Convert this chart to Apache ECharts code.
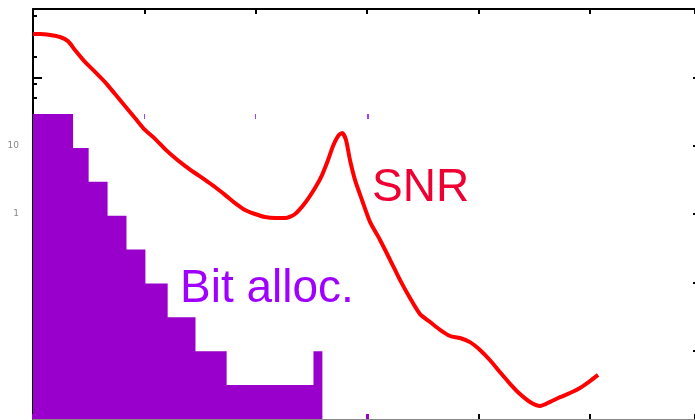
<!DOCTYPE html>
<html>
<head>
<meta charset="utf-8">
<script src="https://cdn.jsdelivr.net/npm/echarts@6/dist/echarts.min.js"></script>
<style>html,body{margin:0;padding:0;background:#fff}#c{width:695px;height:420px}</style>
</head>
<body>
<div id="c"></div>
<script>
// Bit allocation bands (band edges in x units, bits per band)
const bandEdges = [0, 0.36, 0.50, 0.67, 0.84, 1.01, 1.21, 1.46, 1.74, 2.52, 2.60];
const bandBits = [9, 8, 7, 6, 5, 4, 3, 2, 1, 2];

// SNR curve (x units, dB)
const snrX = [0, 0.063, 0.153, 0.243, 0.314, 0.377, 0.467, 0.557, 0.647, 0.737, 0.826, 0.916, 1.006, 1.096, 1.186, 1.276, 1.365, 1.455, 1.545, 1.635, 1.725, 1.815, 1.904, 1.994, 2.084, 2.174, 2.264, 2.354, 2.443, 2.533, 2.596, 2.650, 2.695, 2.740, 2.776, 2.811, 2.847, 2.892, 2.955, 3.027, 3.117, 3.207, 3.296, 3.386, 3.476, 3.566, 3.656, 3.746, 3.835, 3.925, 4.015, 4.105, 4.195, 4.285, 4.374, 4.464, 4.554, 4.644, 4.734, 4.823, 4.913, 5.003, 5.075];
const snrDb = [52.7, 52.7, 52.4, 51.8, 50.6, 48.0, 44.5, 41.6, 38.6, 35.1, 31.6, 28.1, 24.6, 22.0, 19.0, 16.4, 14.1, 12.0, 10.0, 7.9, 5.6, 3.2, 1.2, 0, -0.9, -1.2, -1.2, 0, 3.2, 7.6, 11.4, 15.8, 19.9, 22.8, 23.7, 21.7, 15.8, 10.0, 4.1, -2.3, -7.6, -13.4, -19.3, -24.6, -29.3, -31.6, -33.9, -35.7, -36.3, -37.5, -39.8, -42.8, -46.3, -49.7, -52.7, -55.0, -56.2, -55.0, -53.6, -52.4, -50.9, -48.9, -47.1];

// Tick values
const xTicksInterval = 1;
const leftMajorTicks = [100, 1000];
const leftMinorTicks = [50, 80, 200, 800];
const leftLabels = [1, 10];
const rightTicks = [0.01, 0.1, 1, 10, 100];

const barData = bandEdges.map((e, i) => [e, bandBits[Math.min(i, bandBits.length - 1)]]);
const snrData = snrX.map((x, i) => [x, Math.pow(10, snrDb[i] / 20)]);

const chart = echarts.init(document.getElementById('c'), null, {renderer: 'canvas'});
const noSplit = {show: false};
const option = {
  animation: false,
  backgroundColor: '#fff',
  grid: [
    {left: 33, top: 9, right: 0, height: 410},
    {left: 33, top: 114, width: 335, height: 305}
  ],
  xAxis: [
    {gridIndex: 0, type: 'value', min: 0, max: 5.946, interval: xTicksInterval, position: 'bottom',
     axisLine: {onZero: false, lineStyle: {color: '#888', width: 1}},
     axisTick: {inside: true, length: 5, lineStyle: {color: '#000', width: 2}},
     axisLabel: {show: false}, splitLine: noSplit},
    {gridIndex: 0, type: 'value', min: 0, max: 5.946, interval: xTicksInterval, position: 'top',
     axisLine: {onZero: false, lineStyle: {color: '#000', width: 2}},
     axisTick: {inside: true, length: 5, lineStyle: {color: '#000', width: 2}},
     axisLabel: {show: false}, splitLine: noSplit},
    {gridIndex: 1, type: 'value', min: 0, max: 3.01, interval: xTicksInterval, position: 'top',
     axisLine: {show: false, onZero: false},
     axisTick: {show: true, inside: true, length: 5, lineStyle: {color: '#a040ff', width: 1}},
     axisLabel: {show: false}, splitLine: noSplit},
    {gridIndex: 1, type: 'value', min: 0, max: 3.01, interval: xTicksInterval, position: 'bottom',
     axisLine: {show: false, onZero: false},
     axisTick: {inside: true, length: 5, lineStyle: {color: '#9900cc', width: 2}},
     axisLabel: {show: false}, splitLine: noSplit}
  ],
  yAxis: [
    {gridIndex: 0, type: 'log', logBase: 10, min: 0.001, max: 1000, position: 'left',
     axisLine: {show: true, onZero: false, lineStyle: {color: '#000', width: 2}},
     axisTick: {show: true, inside: true, length: 9, customValues: leftMajorTicks, lineStyle: {color: '#000', width: 2}},
     axisLabel: {show: true, customValues: leftLabels, margin: 14, color: '#888', fontSize: 9, fontFamily: 'DejaVu Sans'},
     splitLine: noSplit},
    {gridIndex: 0, type: 'log', logBase: 10, min: 0.001, max: 1000, position: 'left', offset: 0,
     axisLine: {show: false, onZero: false},
     axisTick: {show: true, inside: true, length: 4, customValues: leftMinorTicks, lineStyle: {color: '#000', width: 2}},
     axisLabel: {show: false}, splitLine: noSplit},
    {gridIndex: 0, type: 'log', logBase: 10, min: 0.001, max: 1000, position: 'right',
     axisLine: {show: false, onZero: false},
     axisTick: {show: true, inside: true, length: 2, customValues: rightTicks, lineStyle: {color: '#000', width: 2}},
     axisLabel: {show: false}, splitLine: noSplit},
    {gridIndex: 1, type: 'value', min: 0, max: 9, show: false}
  ],
  series: [
    {type: 'line', xAxisIndex: 2, yAxisIndex: 3, step: 'end', data: barData, symbol: 'none',
     lineStyle: {width: 0}, areaStyle: {color: '#9900cc', opacity: 1}, z: 3, silent: true},
    {type: 'line', xAxisIndex: 0, yAxisIndex: 0, data: snrData, symbol: 'none', smooth: 0.25,
     lineStyle: {color: '#ff0000', width: 4}, z: 4, silent: true}
  ],
  graphic: [
    {type: 'text', z: 10, style: {x: 372, y: 188, text: 'SNR', fill: '#ee0033', font: '46px "Liberation Sans", Arial, sans-serif', verticalAlign: 'middle', align: 'left'}},
    {type: 'text', z: 10, style: {x: 180, y: 289, text: 'Bit alloc.', fill: '#a000ff', font: '46px "Liberation Sans", Arial, sans-serif', verticalAlign: 'middle', align: 'left'}}
  ]
};
chart.setOption(option);
</script>
</body>
</html>
